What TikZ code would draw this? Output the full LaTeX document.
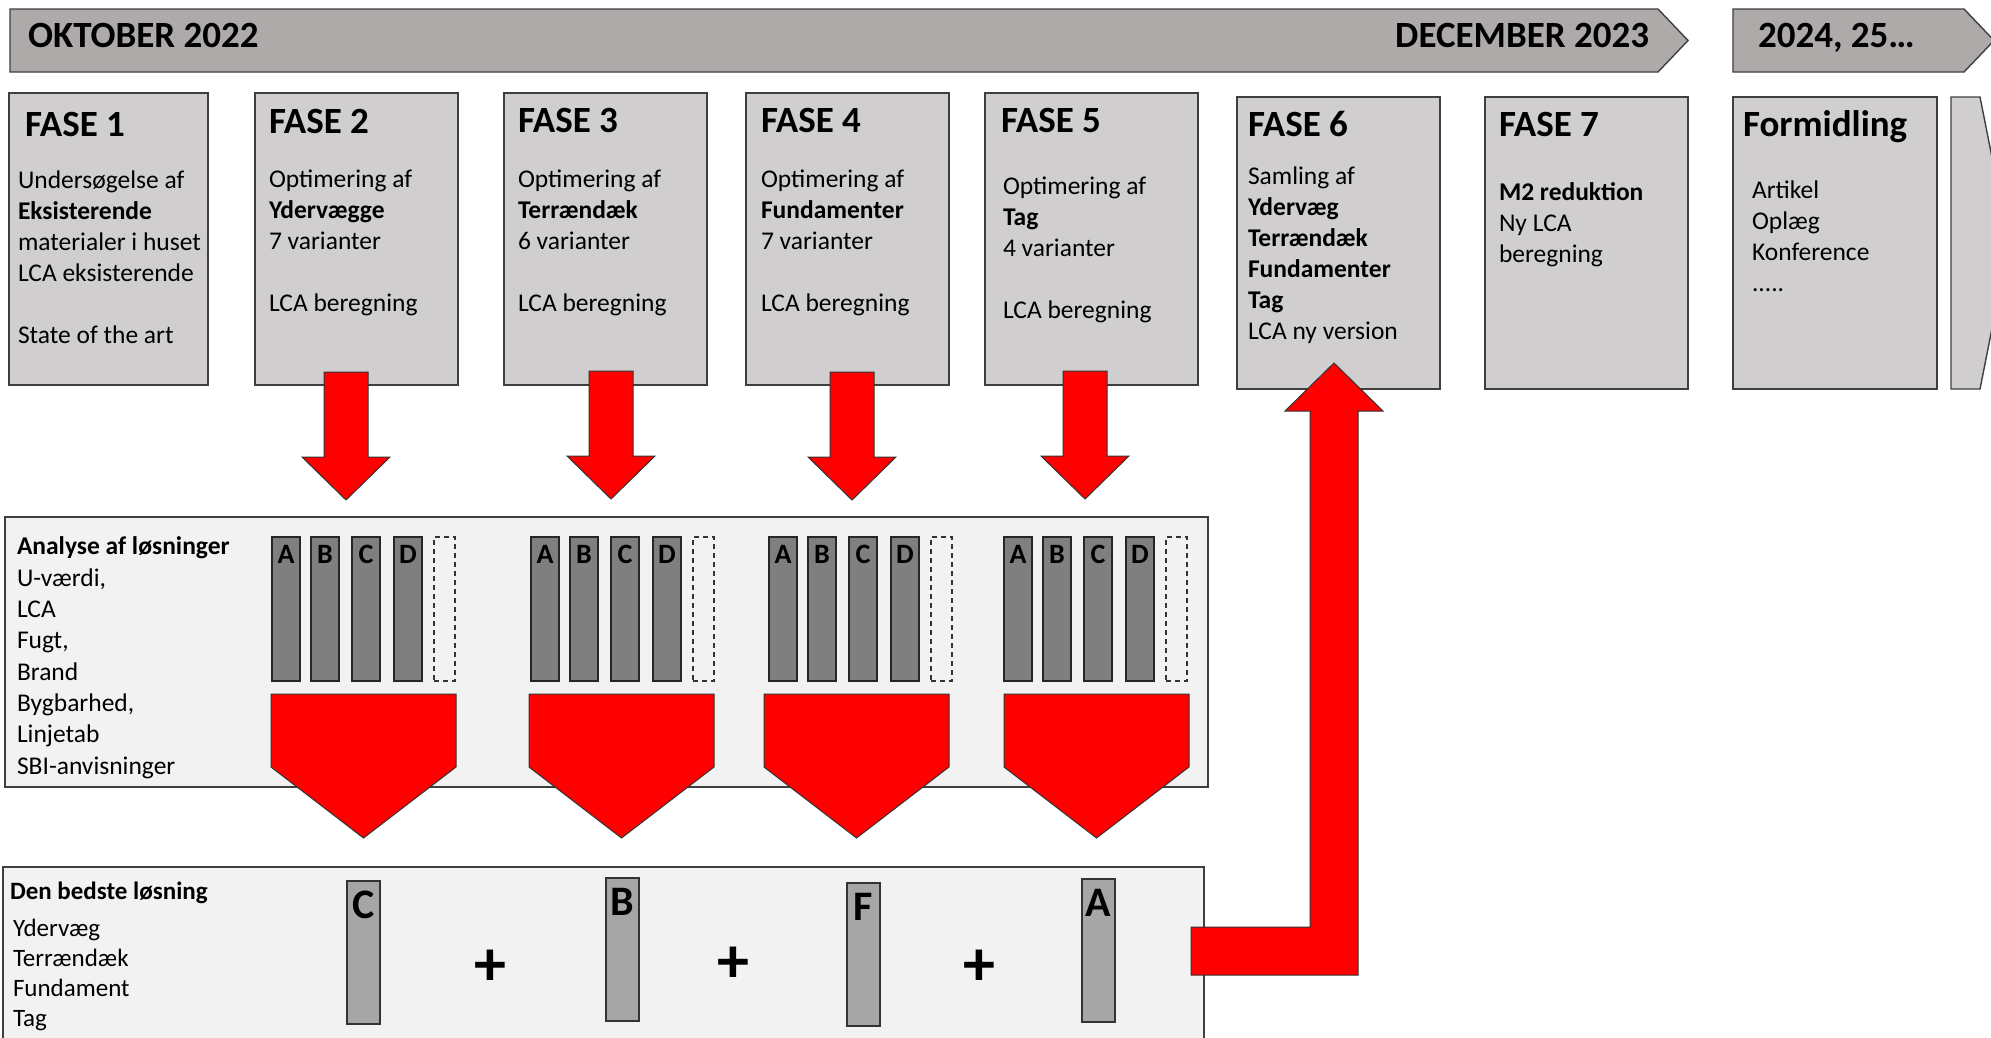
\documentclass[tikz,border=0pt]{standalone}
\usepackage{fontspec}
\setmainfont{Carlito}
\usepackage{tikz}
\usetikzlibrary{positioning,calc}
\usepackage{xcolor}
\definecolor{bannergray}{HTML}{AEAAAA}
\definecolor{fasegray}{HTML}{D0CECE}
\definecolor{panelgray}{HTML}{F2F2F2}
\definecolor{stolpegray}{HTML}{7F7F7F}
\definecolor{bedstgray}{HTML}{A6A6A6}
\definecolor{kantgray}{HTML}{3F3F3F}

\begin{document}
\begin{tikzpicture}[x=1pt, y=-1pt,
    every node/.style={inner sep=0pt, outer sep=0pt},
    kant/.style={draw=kantgray, line width=1.4pt},
    bannertekst/.style={font=\fontsize{37}{44}\selectfont\bfseries},
    fasebox/.style={kant, fill=fasegray, anchor=north west, minimum height=292pt},
    fasetitel/.style={anchor=base west, font=\fontsize{37}{44}\selectfont\bfseries},
    fasetekst/.style={anchor=north west, align=left, font=\fontsize{25.5}{31}\selectfont},
    panel/.style={kant, fill=panelgray, anchor=north west},
    paneltekst/.style={anchor=north west, align=left, font=\fontsize{25.5}{31.3}\selectfont},
    stolpe/.style={draw=black!85, line width=1.2pt, fill=stolpegray, anchor=north west, minimum width=28pt, minimum height=144pt},
    tomstolpe/.style={draw=black!80, line width=1.2pt, dash pattern=on 5pt off 4pt, anchor=north west, minimum width=21pt, minimum height=144pt},
    stolpebogstav/.style={anchor=base, font=\fontsize{28}{30}\selectfont\bfseries},
    bedststolpe/.style={draw=black!80, line width=1.2pt, fill=bedstgray, anchor=north west, minimum width=33pt, minimum height=143pt},
    bedstbogstav/.style={anchor=base, font=\fontsize{42}{44}\selectfont\bfseries},
    plustegn/.style={font=\fontsize{64}{64}\selectfont\bfseries},
    rodblok/.style={fill=red, draw=black!80, line width=1pt},
    nedpil/.pic={\path[rodblok] (-22,0) -- (22,0) -- (22,85) -- (44,85) -- (0,128) -- (-44,85) -- (-22,85) -- cycle;}
]
    \useasboundingbox (0,0) rectangle (1991,1037);

    % 1. Tidslinje
    \path[kant, fill=bannergray] (10,9) -- (1658,9) -- (1688,40.5) -- (1658,72) -- (10,72) -- cycle;
    \path[kant, fill=bannergray] (1733,9) -- (1964,9) -- (1994,40.5) -- (1964,72) -- (1733,72) -- cycle;
    \node[bannertekst, anchor=base west] (okt) at (28,47) {OKTOBER 2022};
    \node[bannertekst, anchor=base east] (dec) at (1649,47) {DECEMBER 2023};
    \node[bannertekst, anchor=base west] (senere) at (1758,47) {2024, 25…};

    % 2. Faser
    \node[fasebox, minimum width=199pt] (f1) at (9,93) {};
    \node[fasebox, minimum width=203pt] (f2) at (255,93) {};
    \node[fasebox, minimum width=203pt] (f3) at (504,93) {};
    \node[fasebox, minimum width=203pt] (f4) at (746,93) {};
    \node[fasebox, minimum width=213pt] (f5) at (985,93) {};
    \node[fasebox, minimum width=203pt] (f6) at (1237,97) {};
    \node[fasebox, minimum width=203pt] (f7) at (1485,97) {};
    \node[fasebox, minimum width=204pt] (form) at (1733,97) {};
    \path[kant, fill=fasegray] (1951,97) -- (1980,97) -- (2009,243) -- (1980,389) -- (1951,389) -- cycle;

    \node[fasetitel] (t1) at (25,136) {FASE 1};
    \node[fasetitel] (t2) at (269,133) {FASE 2};
    \node[fasetitel] (t3) at (518,132) {FASE 3};
    \node[fasetitel] (t4) at (761,132) {FASE 4};
    \node[fasetitel] (t5) at (1001,132) {FASE 5};
    \node[fasetitel] (t6) at (1248,136) {FASE 6};
    \node[fasetitel] (t7) at (1499,136) {FASE 7};
    \node[fasetitel] (tform) at (1743,136) {Formidling};

    \node[fasetekst] (x1) at (18,167) {\strut Undersøgelse af\\\textbf{Eksisterende}\\materialer i huset\\LCA eksisterende\\[31pt]State of the art};
    \node[fasetekst] (x2) at (269,166) {\strut Optimering af\\\textbf{Ydervægge}\\7 varianter\\[31pt]LCA beregning};
    \node[fasetekst] (x3) at (518,166) {\strut Optimering af\\\textbf{Terrændæk}\\6 varianter\\[31pt]LCA beregning};
    \node[fasetekst] (x4) at (761,166) {\strut Optimering af\\\textbf{Fundamenter}\\7 varianter\\[31pt]LCA beregning};
    \node[fasetekst] (x5) at (1003,173) {\strut Optimering af\\\textbf{Tag}\\4 varianter\\[31pt]LCA beregning};
    \node[fasetekst] (x6) at (1248,163) {\strut Samling af\\\textbf{Ydervæg}\\\textbf{Terrændæk}\\\textbf{Fundamenter}\\\textbf{Tag}\\LCA ny version};
    \node[fasetekst] (x7) at (1499,179) {\strut\textbf{M2 reduktion}\\Ny LCA\\beregning};
    \node[fasetekst] (xform) at (1752,177) {\strut Artikel\\Oplæg\\Konference\\.....};

    % 3. Analyse af løsninger
    \node[panel, minimum width=1203pt, minimum height=270pt] (ana) at (5,517) {};
    \node[paneltekst] (anatekst) at (17,533) {\strut\textbf{Analyse af løsninger}\\U-værdi,\\LCA\\Fugt,\\Brand\\Bygbarhed,\\Linjetab\\SBI-anvisninger};
    \foreach \gx/\px [count=\g] in {272/271, 531/529, 769/764, 1004/1004} {
        \foreach \dx/\bogstav [count=\b] in {0/A, 39/B, 80/C, 122/D} {
            \node[stolpe] (s\g\b) at (\gx+\dx,537) {};
            \node[stolpebogstav] (l\g\b) at ($(s\g\b.north)+(0,26)$) {\bogstav};
        }
        \node[tomstolpe] (s\g5) at (\gx+162,537) {};
        \path[rodblok] (\px,694) -- ++(185,0) -- ++(0,73) -- ++(-92.5,71) -- ++(-92.5,-71) -- cycle;
    }

    % 4. Pile fra faserne
    \pic at (346,372) {nedpil};
    \pic at (611,371) {nedpil};
    \pic at (852,372) {nedpil};
    \pic at (1085,371) {nedpil};

    % 5. Den bedste løsning
    \node[panel, minimum width=1201pt, minimum height=190pt] (bedst) at (3,867) {};
    \node[anchor=base west, font=\fontsize{25}{30}\selectfont\bfseries] (bedsttitel) at (10,899) {Den bedste løsning};
    \node[paneltekst, font=\fontsize{25}{30}\selectfont] (bedsttekst) at (13,915) {\strut Ydervæg\\Terrændæk\\Fundament\\Tag};
    \foreach \bx/\by/\bogstav [count=\i] in {347/881/C, 606/878/B, 847/883/F, 1082/879/A} {
        \node[bedststolpe] (b\i) at (\bx,\by) {};
        \node[bedstbogstav] (bl\i) at ($(b\i.north)+(0,37)$) {\bogstav};
    }
    \node[plustegn] (p1) at (490,968) {+};
    \node[plustegn] (p2) at (733,965) {+};
    \node[plustegn] (p3) at (979,968) {+};

    % 6. Retur til fase 6
    \path[rodblok] (1191,927) -- (1310,927) -- (1310,411) -- (1285,411) -- (1334,363)
                   -- (1383,411) -- (1358,411) -- (1358,975) -- (1191,975) -- cycle;
\end{tikzpicture}
\end{document}
